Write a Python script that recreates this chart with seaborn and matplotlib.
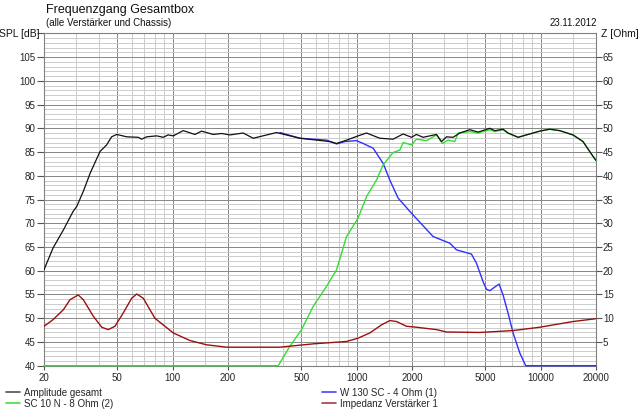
import numpy as np
import pandas as pd
import matplotlib
matplotlib.use("Agg")
import matplotlib.pyplot as plt
import seaborn as sns
from matplotlib.ticker import FixedLocator, FixedFormatter, NullFormatter
from matplotlib.lines import Line2D

sns.set_style("white")
plt.rcParams['font.family'] = ['Liberation Sans', 'DejaVu Sans']

# ---------------- data ----------------
total_f = [20, 22.4, 25.5, 28.8, 30.1, 32.7, 35.6, 40.3, 43.8, 46.6, 49.7, 56.3, 65.0, 67.9, 72.3,
           81.9, 88.9, 94.6, 100.8, 114.2, 132.2, 143.8, 166.3, 184.6, 204.8, 241.8, 274.2, 367.2,
           491.7, 715.8, 778.3, 881.6, 1019, 1132, 1337, 1579, 1790, 1988, 2114, 2298, 2718, 2892,
           3079, 3344, 3637, 4121, 4573, 5293, 5635, 6251, 6652, 7543, 8726, 9889, 11206, 12700,
           14998, 17001, 18486, 20000]
total_db = [60.2, 64.8, 68.6, 72.5, 73.5, 76.7, 80.5, 85.1, 86.5, 88.2, 88.7, 88.2, 88.1, 87.7, 88.2,
            88.4, 88.1, 88.6, 88.4, 89.5, 88.7, 89.4, 88.7, 88.9, 88.6, 89.0, 87.9, 89.1,
            87.9, 87.2, 86.8, 87.5, 88.4, 89.0, 87.9, 87.7, 88.8, 88.1, 88.7, 88.1, 88.7, 87.2,
            88.2, 88.1, 89.0, 89.7, 89.2, 90.0, 89.5, 89.8, 89.0, 88.1, 88.8, 89.4, 89.8, 89.5,
            88.6, 87.2, 85.1, 83.2]

woofer_f = [383, 491.7, 686.6, 778, 863, 998, 1085, 1230, 1394, 1515, 1681, 1988, 2604, 3209,
            3489, 4209, 4480, 4867, 5078, 5293, 5947, 6251, 6652, 7086, 7703, 8301, 20000]
woofer_db = [89.1, 87.9, 87.5, 86.7, 87.2, 87.4, 86.8, 85.8, 82.6, 79.1, 75.3, 72.1, 67.2, 65.8,
             64.4, 63.5, 61.6, 57.7, 56.1, 55.8, 57.2, 54.9, 51.1, 46.9, 42.7, 40.0, 40.0]

tweeter_f = [20, 374.8, 433.8, 502.3, 580.6, 686.6, 778, 881.6, 1019, 1132, 1283, 1394, 1579, 1717,
             1790, 1988, 2114, 2398, 2718, 2929, 3141, 3416, 3561, 4121, 4573, 5293, 5635, 6251,
             6652, 7543, 8726, 9889, 11206, 12700, 14998, 17001, 18486, 20000]
tweeter_db = [40.0, 40.0, 44.1, 47.6, 52.5, 56.7, 60.2, 67.2, 71.1, 75.6, 79.1, 82.3, 84.9, 85.4,
              87.0, 86.5, 87.7, 87.4, 88.6, 86.8, 87.5, 87.2, 89.0, 89.3, 89.0, 89.7, 89.3, 89.7,
              89.0, 88.1, 88.8, 89.4, 89.8, 89.5, 88.6, 87.2, 85.1, 83.2]

imp_f = [20, 22.4, 25.5, 27.7, 30.7, 32.7, 37.1, 41.2, 44.7, 48.6, 53.9, 59.9, 63.8, 69.3, 80.1,
         100.8, 124.2, 153.1, 196.6, 232, 383, 580.6, 881.6, 1019, 1180, 1366, 1515, 1648, 1867,
         2114, 2718, 3079, 4670, 7086, 9889, 14998, 20000]
imp_ohm = [8.3, 9.7, 11.8, 13.9, 14.9, 13.9, 10.4, 8.1, 7.6, 8.3, 11.1, 14.2, 15.1, 14.2, 10.0,
           6.9, 5.3, 4.4, 3.9, 3.9, 3.9, 4.6, 5.1, 5.8, 6.9, 8.6, 9.5, 9.3, 8.3,
           8.1, 7.6, 7.1, 7.0, 7.4, 8.1, 9.3, 9.9]

x_major = [20, 50, 100, 200, 500, 1000, 2000, 5000, 10000, 20000]
x_labels = ["20", "50", "100", "200", "500", "1000", "2000", "5000", "10000", "20000"]
x_minor = [30, 40, 60, 70, 80, 90, 150, 300, 400, 600, 700, 800, 900, 1500, 3000, 4000,
           6000, 7000, 8000, 9000, 15000]
spl_ticks = list(range(40, 106, 5))
z_ticks = list(range(5, 66, 5))

title = "Frequenzgang Gesamtbox"
subtitle = "(alle Verstärker und Chassis)"
date = "23.11.2012"
labels = ["Amplitude gesamt", "SC 10 N - 8 Ohm (2)", "W 130 SC - 4 Ohm (1)", "Impedanz Verstärker 1"]

# ---------------- figure ----------------
W, H = 640, 413
fig = plt.figure(figsize=(6.4, 4.13), dpi=100)
ax = fig.add_axes([44 / W, 1 - 365.7 / H, 552 / W, 332.4 / H])

c_black = "#111111"
c_blue = "#3030ff"
c_green = "#33dd33"
c_red = "#9a1010"

sns.lineplot(x=woofer_f, y=woofer_db, ax=ax, color=c_blue, lw=1.0, estimator=None, sort=False)
ax.lines[-1].set_clip_on(False); ax.lines[-1].set_zorder(2.6)
sns.lineplot(x=tweeter_f, y=tweeter_db, ax=ax, color=c_green, lw=1.0, estimator=None, sort=False)
ax.lines[-1].set_clip_on(False); ax.lines[-1].set_zorder(2.7)
sns.lineplot(x=total_f, y=total_db, ax=ax, color=c_black, lw=0.9, estimator=None, sort=False)
ax.lines[-1].set_zorder(3)

ax.set_xscale("log")
ax.set_xlim(20, 20000)
ax.set_ylim(40, 110)
ax.set_xlabel(""); ax.set_ylabel("")

ax.xaxis.set_major_locator(FixedLocator(x_major))
ax.xaxis.set_major_formatter(FixedFormatter(x_labels))
ax.xaxis.set_minor_locator(FixedLocator(x_minor))
ax.xaxis.set_minor_formatter(NullFormatter())
ax.yaxis.set_major_locator(FixedLocator(spl_ticks + [110]))
ax.yaxis.set_major_formatter(FixedFormatter([str(v) for v in spl_ticks] + [""]))
ax.yaxis.set_minor_locator(FixedLocator([v for v in range(41, 110) if v % 5 != 0]))

ax.grid(True, which="major", color="#8a8a8a", lw=0.72)
ax.grid(True, which="minor", color="#cdcdcd", lw=0.72)
ax.set_axisbelow(True)

ax.tick_params(axis="x", which="major", direction="out", length=3, width=0.8, color="#555555",
               labelsize=7, pad=2)
ax.tick_params(axis="y", which="major", direction="out", length=5, width=0.8, color="#555555",
               labelsize=7, pad=1)
ax.tick_params(which="minor", length=0)
ax.tick_params(axis="y", which="major", left=True)
ax.tick_params(axis="x", which="major", bottom=True)

for s in ax.spines.values():
    s.set_color("#808080")
    s.set_linewidth(0.8)

ax2 = ax.twinx()
sns.lineplot(x=imp_f, y=imp_ohm, ax=ax2, color=c_red, lw=1.0, estimator=None, sort=False)
ax2.set_ylim(0, 70)
ax2.set_xlim(20, 20000)
ax2.set_ylabel("")
ax2.yaxis.set_major_locator(FixedLocator(z_ticks))
ax2.yaxis.set_major_formatter(FixedFormatter([str(v) for v in z_ticks]))
ax2.tick_params(axis="y", direction="out", length=4, width=0.8, color="#555555", labelsize=7, pad=1)
ax2.grid(False)
for s in ax2.spines.values():
    s.set_visible(False)

# ---------------- texts ----------------
fig.text(46 / W, 1 - 10.5 / H, title, fontsize=9, ha="left", va="center", color="#111111")
fig.text(46 / W, 1 - 22.5 / H, subtitle, fontsize=7, ha="left", va="center", color="#111111")
fig.text(597 / W, 1 - 22.5 / H, date, fontsize=7, ha="right", va="center", color="#111111")
fig.text(40 / W, 1 - 34 / H, "SPL [dB]", fontsize=7.5, ha="right", va="center", color="#111111")
fig.text(601 / W, 1 - 34 / H, "Z [Ohm]", fontsize=7.5, ha="left", va="center", color="#111111")

# ---------------- legend ----------------
h_total = Line2D([], [], color="#505050", lw=1.2)
h_tw = Line2D([], [], color="#44dd44", lw=1.2)
h_wo = Line2D([], [], color="#4444ff", lw=1.2)
h_imp = Line2D([], [], color="#a04040", lw=1.2)
common = dict(frameon=False, fontsize=7, handlelength=1.45, handletextpad=0.45,
              labelspacing=0.12, borderpad=0, borderaxespad=0, loc="upper left")
leg1 = fig.legend([h_total, h_tw], labels[:2], bbox_to_anchor=(6 / W, 1 - 387.5 / H), **common)
leg2 = fig.legend([h_wo, h_imp], labels[2:], bbox_to_anchor=(322 / W, 1 - 387.5 / H), **common)

fig.savefig("out.png", dpi=100)
